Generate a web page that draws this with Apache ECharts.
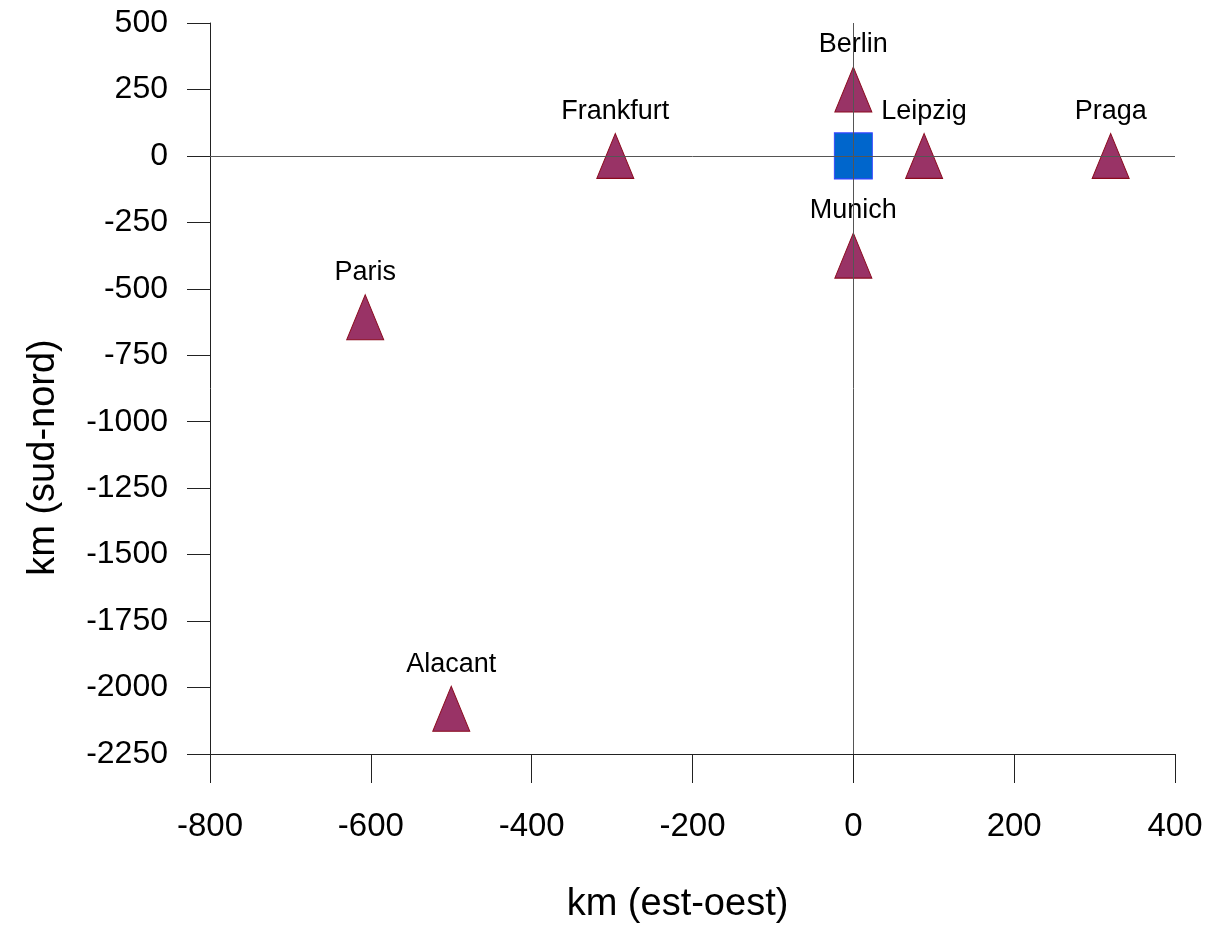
<!DOCTYPE html>
<html>
<head>
<meta charset="utf-8">
<script src="https://cdn.jsdelivr.net/npm/echarts@6/dist/echarts.min.js"></script>
<style>html,body{margin:0;padding:0;background:#fff}#c{width:1214px;height:932px}</style>
</head>
<body>
<div id="c"></div>
<script>
// Data
const cities = ['Berlin', 'Frankfurt', 'Leipzig', 'Praga', 'Munich', 'Paris', 'Alacant'];
const xKm = [0, -296, 88, 320, 0, -607, -500];
const yKm = [250, 0, 0, 0, -375, -607, -2080];
const originName = ['Munich (origen)'];
const originX = [0];
const originY = [0];
const xTitle = 'km (est-oest)';
const yTitle = 'km (sud-nord)';

const FONT = "'Liberation Sans Narrow', 'Arial Narrow', 'Liberation Sans', Arial, sans-serif";

const cityData = cities.map((n, i) => ({ name: n, value: [xKm[i], yKm[i]] }));
const originData = originName.map((n, i) => ({ name: n, value: [originX[i], originY[i]] }));

const chart = echarts.init(document.getElementById('c'), null, { renderer: 'canvas' });
chart.setOption({
  animation: false,
  backgroundColor: '#ffffff',
  grid: { left: 210, right: 39, top: 23, bottom: 178, containLabel: false },
  xAxis: {
    type: 'value', min: -800, max: 400, interval: 200,
    name: xTitle, nameLocation: 'middle', nameGap: 132,
    nameTextStyle: { fontFamily: FONT, fontSize: 38, color: '#000', padding: [0, 30, 0, 0] },
    axisLine: { onZero: false, lineStyle: { color: '#222', width: 1 } },
    axisTick: { show: true, inside: false, length: 29, lineStyle: { color: '#222' } },
    axisLabel: { fontFamily: FONT, fontSize: 33, color: '#000', margin: 56, formatter: v => String(v) },
    splitLine: { show: false }
  },
  yAxis: {
    type: 'value', min: -2250, max: 500, interval: 250,
    name: yTitle, nameLocation: 'middle', nameGap: 147,
    nameTextStyle: { fontFamily: FONT, fontSize: 38, color: '#000', padding: [0, 138, 0, 0] },
    axisLine: { onZero: false, lineStyle: { color: '#222', width: 1 } },
    axisTick: { show: true, inside: false, length: 23, lineStyle: { color: '#222' } },
    axisLabel: { fontFamily: FONT, fontSize: 32, color: '#000', margin: 42, formatter: v => String(v) },
    splitLine: { show: false }
  },
  series: [
    {
      type: 'scatter',
      data: cityData,
      symbol: 'triangle',
      symbolSize: [37, 45],
      itemStyle: { color: '#993366', borderColor: '#8B0A1E', borderWidth: 1, opacity: 1 },
      label: {
        show: true, position: 'top', distance: 8,
        formatter: p => p.name,
        fontFamily: FONT, fontSize: 27, color: '#000'
      },
      markLine: {
        silent: true, symbol: 'none', animation: false,
        label: { show: false },
        lineStyle: { color: '#555', width: 1, type: 'solid' },
        data: [{ xAxis: 0 }, { yAxis: 0 }]
      },
      z: 3
    },
    {
      type: 'scatter',
      data: originData,
      symbol: 'rect',
      symbolSize: [38, 46],
      itemStyle: { color: '#0066CC', borderColor: '#3344FF', borderWidth: 1, opacity: 1 },
      label: { show: false },
      z: 3
    }
  ]
});
</script>
</body>
</html>
